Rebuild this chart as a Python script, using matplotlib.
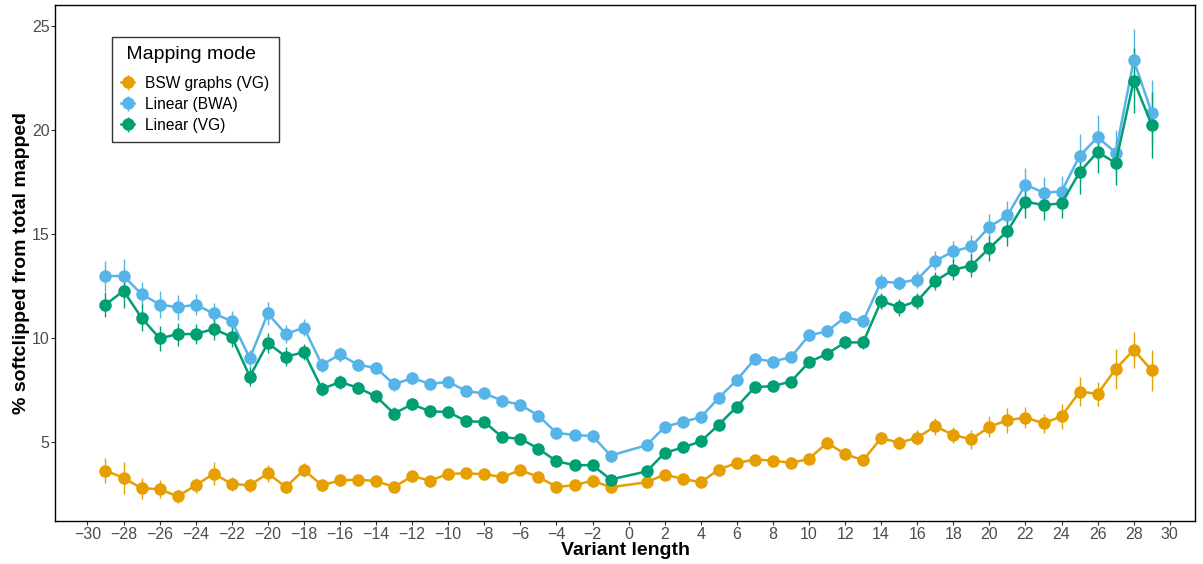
import matplotlib
matplotlib.use("Agg")
import matplotlib.pyplot as plt

plt.rcParams["font.family"] = ["Liberation Sans", "DejaVu Sans"]

# ── data ──────────────────────────────────────────────────────────────────────
lengths = [-29, -28, -27, -26, -25, -24, -23, -22, -21, -20, -19, -18, -17, -16,
           -15, -14, -13, -12, -11, -10, -9, -8, -7, -6, -5, -4, -3, -2, -1,
           1, 2, 3, 4, 5, 6, 7, 8, 9, 10, 11, 12, 13, 14, 15, 16, 17, 18, 19,
           20, 21, 22, 23, 24, 25, 26, 27, 28, 29]

bsw_vg = [3.63, 3.28, 2.78, 2.74, 2.39, 2.92, 3.48, 2.99, 2.92, 3.50, 2.84, 3.66,
          2.92, 3.16, 3.19, 3.13, 2.84, 3.36, 3.15, 3.47, 3.50, 3.45, 3.32, 3.65,
          3.32, 2.85, 2.92, 3.15, 2.83,
          3.07, 3.44, 3.23, 3.07, 3.68, 4.00, 4.16, 4.11, 4.00, 4.19, 4.97, 4.42,
          4.13, 5.19, 4.97, 5.21, 5.76, 5.34, 5.13, 5.74, 6.05, 6.18, 5.90, 6.24,
          7.42, 7.32, 8.51, 9.43, 8.44]
bsw_err = [0.60, 0.77, 0.50, 0.45, 0.30, 0.35, 0.55, 0.35, 0.30, 0.40, 0.30, 0.35,
           0.25, 0.25, 0.22, 0.22, 0.20, 0.22, 0.20, 0.20, 0.20, 0.20, 0.20, 0.20,
           0.20, 0.20, 0.20, 0.20, 0.20,
           0.20, 0.20, 0.20, 0.20, 0.22, 0.22, 0.22, 0.22, 0.25, 0.25, 0.28, 0.28,
           0.28, 0.30, 0.30, 0.35, 0.40, 0.40, 0.45, 0.50, 0.60, 0.50, 0.45, 0.60,
           0.70, 0.58, 0.95, 0.85, 1.00]

linear_bwa = [12.98, 12.98, 12.11, 11.61, 11.48, 11.60, 11.18, 10.81, 9.03, 11.18,
              10.19, 10.50, 8.71, 9.21, 8.71, 8.56, 7.77, 8.08, 7.79, 7.90, 7.44,
              7.34, 6.99, 6.79, 6.27, 5.44, 5.34, 5.29, 4.35,
              4.85, 5.73, 5.97, 6.19, 7.13, 7.98, 9.00, 8.87, 9.08, 10.13, 10.32,
              11.00, 10.81, 12.71, 12.65, 12.81, 13.71, 14.16, 14.40, 15.34, 15.89,
              17.37, 16.99, 17.04, 18.75, 19.65, 18.91, 23.35, 20.82]
bwa_err = [0.70, 0.80, 0.60, 0.65, 0.60, 0.50, 0.50, 0.50, 0.40, 0.55, 0.45, 0.40,
           0.35, 0.35, 0.30, 0.30, 0.30, 0.30, 0.25, 0.25, 0.25, 0.25, 0.25, 0.25,
           0.20, 0.20, 0.20, 0.20, 0.20,
           0.20, 0.20, 0.20, 0.20, 0.20, 0.20, 0.20, 0.20, 0.20, 0.25, 0.25, 0.30,
           0.30, 0.35, 0.35, 0.40, 0.45, 0.50, 0.55, 0.60, 0.70, 0.80, 0.75, 0.75,
           1.05, 1.05, 1.10, 1.50, 1.60]

linear_vg = [11.60, 12.27, 10.97, 9.98, 10.19, 10.19, 10.44, 10.05, 8.15, 9.76,
             9.10, 9.32, 7.55, 7.89, 7.61, 7.19, 6.37, 6.82, 6.47, 6.45, 6.00, 5.97,
             5.23, 5.16, 4.68, 4.08, 3.89, 3.89, 3.20,
             3.59, 4.48, 4.74, 5.03, 5.84, 6.70, 7.64, 7.69, 7.91, 8.84, 9.24, 9.79,
             9.79, 11.78, 11.48, 11.78, 12.74, 13.28, 13.48, 14.32, 15.14, 16.55,
             16.39, 16.47, 17.97, 18.94, 18.41, 22.37, 20.24]
vg_err = [0.60, 0.85, 0.65, 0.60, 0.55, 0.50, 0.55, 0.50, 0.45, 0.50, 0.45, 0.40,
          0.35, 0.35, 0.30, 0.30, 0.30, 0.30, 0.25, 0.25, 0.25, 0.25, 0.25, 0.25,
          0.20, 0.20, 0.20, 0.20, 0.20,
          0.20, 0.20, 0.20, 0.20, 0.20, 0.20, 0.20, 0.20, 0.20, 0.25, 0.25, 0.30,
          0.30, 0.40, 0.40, 0.40, 0.45, 0.50, 0.55, 0.60, 0.70, 0.78, 0.70, 0.70,
          1.05, 1.00, 1.05, 1.55, 1.60]

series = [
    ("BSW graphs (VG)", bsw_vg, bsw_err, "#E69F00"),
    ("Linear (BWA)", linear_bwa, bwa_err, "#56B4E9"),
    ("Linear (VG)", linear_vg, vg_err, "#009E73"),
]

xticks = list(range(-30, 31, 2))
yticks = [5, 10, 15, 20, 25]

# ── figure ────────────────────────────────────────────────────────────────────
fig = plt.figure(figsize=(12.03, 5.64), dpi=100)
ax = fig.add_axes([0.0457, 0.076, 0.9477, 0.915])

for label, vals, err, col in series:
    ax.errorbar(lengths, vals, yerr=err, color=col, ecolor=col, elinewidth=1.0,
                lw=1.8, marker="o", markersize=8, capsize=0, label=label,
                zorder=3)

ax.set_xlim(-31.8, 31.4)
ax.set_ylim(1.2, 26.0)
ax.set_xticks(xticks)
ax.set_yticks(yticks)
ax.tick_params(axis="both", direction="out", length=3, width=0.8, pad=1,
               colors="#333333", labelsize=11.5, labelcolor="#4d4d4d")
for s in ax.spines.values():
    s.set_linewidth(1.0)
    s.set_color("black")

ax.set_xlabel("Variant length", fontsize=14, fontweight="bold", labelpad=0)
ax.set_ylabel("% softclipped from total mapped", fontsize=14,
              fontweight="bold", va="center")
ax.yaxis.set_label_coords(-0.029, 0.5)

# ── legend (short cross-shaped keys like ggplot pointrange) ──────────────────
handles, labels = ax.get_legend_handles_labels()
leg = ax.legend(handles, labels, title=" Mapping mode", loc="upper left",
                bbox_to_anchor=(0.05, 0.938), borderaxespad=0,
                fontsize=11.2, title_fontsize=14,
                frameon=True, fancybox=False, edgecolor="black",
                borderpad=0.6, handlelength=0.8, handletextpad=0.75,
                labelspacing=0.38)
leg.get_frame().set_linewidth(1.0)
leg._legend_box.align = "left"
leg._legend_box.sep = 9
for h in leg.legend_handles:
    for child in h.get_children():
        if hasattr(child, "set_markersize"):
            child.set_markersize(6)

fig.savefig("out.png", dpi=100)
